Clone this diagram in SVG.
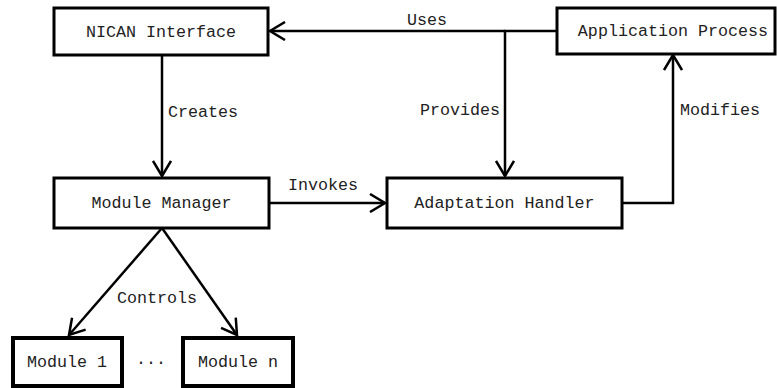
<svg xmlns="http://www.w3.org/2000/svg" width="777" height="388" viewBox="0 0 777 388">
<style>
.box{fill:#fff;stroke:#000;stroke-width:3}
.mod{fill:#fff;stroke:#000;stroke-width:4}
.t{font-family:"Liberation Mono","Courier New",monospace;font-size:16.7px;fill:#222}
.c{text-anchor:middle}
.ln{fill:none;stroke:#000;stroke-width:2.5}
</style>
<defs>
<marker id="ah" viewBox="0 0 20 20" refX="17" refY="10" markerWidth="20" markerHeight="20" markerUnits="userSpaceOnUse" orient="auto">
<path d="M2,1 L17,10 L2,19" fill="none" stroke="#000" stroke-width="2.5"/>
</marker>
</defs>
<rect width="777" height="388" fill="#fff"/>
<g id="connectors">
<path class="ln" d="M505,31 L270,31" marker-end="url(#ah)"/>
<path class="ln" d="M557,31 L505,31 L505,176" stroke-width="3" marker-end="url(#ah)"/>
<path class="ln" d="M622,203 L673,203 L673,55" marker-end="url(#ah)"/>
<path class="ln" d="M269,203 L385,203" marker-end="url(#ah)"/>
<path class="ln" d="M162,55 L162,176" marker-end="url(#ah)"/>
<path class="ln" d="M162,228 L69,335" marker-end="url(#ah)"/>
<path class="ln" d="M162,228 L237,335" marker-end="url(#ah)"/>
<text class="t" x="407" y="25">Uses</text>
<text class="t" x="168" y="117">Creates</text>
<text class="t" x="420" y="115">Provides</text>
<text class="t" x="680" y="115">Modifies</text>
<text class="t" x="288" y="190">Invokes</text>
<text class="t" x="117" y="303">Controls</text>
</g>
<g id="nican">
<rect class="box" x="54" y="8" width="214" height="47"/>
<text class="t c" x="161" y="37">NICAN Interface</text>
</g>
<g id="app">
<rect class="box" x="557" y="8" width="218" height="46"/>
<text class="t c" x="673" y="36">Application Process</text>
</g>
<g id="manager">
<rect class="box" x="54" y="178" width="215" height="50"/>
<text class="t c" x="161.5" y="208">Module Manager</text>
</g>
<g id="handler">
<rect class="box" x="387" y="178" width="235" height="50"/>
<text class="t c" x="504.5" y="208">Adaptation Handler</text>
</g>
<g id="module1">
<rect class="mod" x="13" y="338" width="109" height="48"/>
<text class="t c" x="67" y="367">Module 1</text>
</g>
<g id="dots">
<text class="t c" x="151" y="367">···</text>
</g>
<g id="modulen">
<rect class="mod" x="183" y="338" width="110" height="48"/>
<text class="t c" x="238" y="367">Module n</text>
</g>
</svg>
